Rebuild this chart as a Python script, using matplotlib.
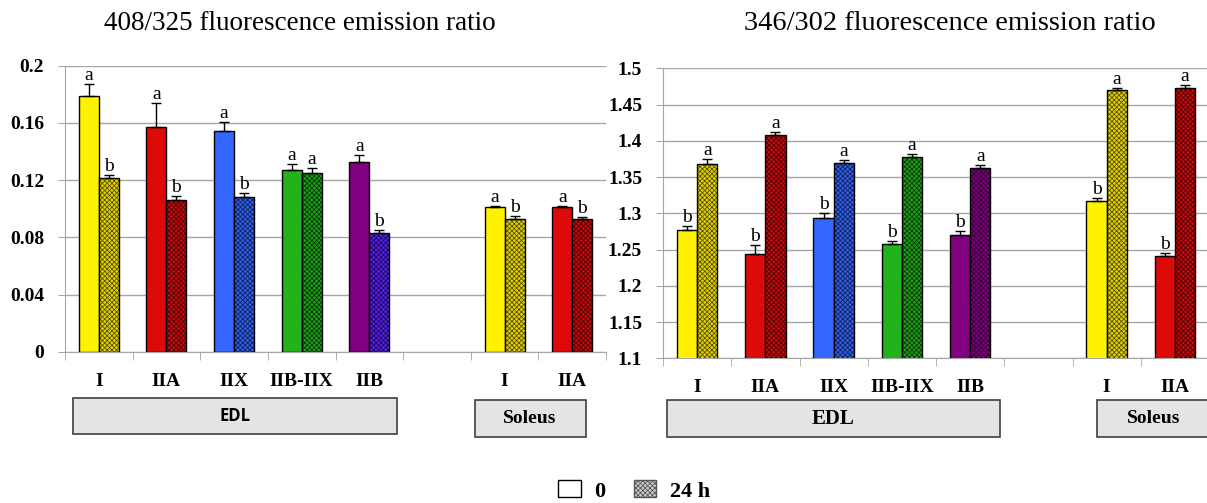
import numpy as np
import matplotlib.pyplot as plt
from matplotlib.patches import Rectangle, Patch

# Datos
fibras = ["I", "IIA", "IIX", "IIB-IIX", "IIB", "I", "IIA"]
posiciones = [0, 1, 2, 3, 4, 6, 7]

# 408/325
r408_0h = [0.179, 0.157, 0.1545, 0.1273, 0.1324, 0.101, 0.101]
r408_0h_err = [0.008, 0.017, 0.006, 0.004, 0.0054, 0.001, 0.001]
r408_24h = [0.1213, 0.1063, 0.108, 0.1247, 0.0832, 0.093, 0.093]
r408_24h_err = [0.0025, 0.0026, 0.003, 0.004, 0.002, 0.0017, 0.0015]
letras408_0h = ["a", "a", "a", "a", "a", "a", "a"]
letras408_24h = ["b", "b", "b", "a", "b", "b", "b"]
ticks408 = [0, 0.04, 0.08, 0.12, 0.16, 0.2]

# 346/302
r346_0h = [1.277, 1.244, 1.294, 1.2577, 1.270, 1.317, 1.2407]
r346_0h_err = [0.005, 0.012, 0.007, 0.004, 0.005, 0.004, 0.004]
r346_24h = [1.3684, 1.4084, 1.370, 1.3773, 1.362, 1.4697, 1.4728]
r346_24h_err = [0.006, 0.004, 0.004, 0.004, 0.005, 0.003, 0.004]
letras346_0h = ["b", "b", "b", "b", "b", "b", "b"]
letras346_24h = ["a", "a", "a", "a", "a", "a", "a"]
ticks346 = [1.1, 1.15, 1.2, 1.25, 1.3, 1.35, 1.4, 1.45, 1.5]

# colores: 0 h, 24 h (fondo), 24 h (trama)
col_0h = ["#fff200", "#dd0a0a", "#3366ff", "#22b21a", "#800080", "#fff200", "#dd0a0a"]
col_24h = ["#e2d200", "#c80c0c", "#3060e8", "#1f9e18", "#5a20e0", "#e2d200", "#c80c0c"]
trama_24h = ["#5a5200", "#4a0000", "#10205a", "#0a3a08", "#1a0860", "#5a5200", "#4a0000"]
col_24h_der = ["#e2d200", "#c80c0c", "#3060e8", "#1f9e18", "#800080", "#e2d200", "#c80c0c"]
trama_24h_der = ["#5a5200", "#4a0000", "#10205a", "#0a3a08", "#300030", "#5a5200", "#4a0000"]

W, H = 1207, 503
plt.rcParams['hatch.linewidth'] = 0.6
serif = "Liberation Serif"
gris = "#a6a6a6"


def px(x0, y0, x1, y1):
    return [x0 / W, 1 - y1 / H, (x1 - x0) / W, (y1 - y0) / H]


def panel(ax, v0, e0, v24, e24, l0, l24, c24, t24, yticks, ylim):
    ancho = 0.295
    x = np.array(posiciones, dtype=float)
    x0 = x - ancho / 2
    x24 = x + ancho / 2
    ax.bar(x0, v0, ancho, color=col_0h, edgecolor="black", linewidth=1, zorder=3)
    ax.bar(x24, v24, ancho, color=c24, edgecolor=t24, hatch="xxxxxxx", linewidth=0, zorder=3)
    ax.bar(x24, v24, ancho, fill=False, edgecolor="black", linewidth=1, zorder=4)
    ax.errorbar(x0, v0, yerr=[np.zeros(len(e0)), e0], fmt="none", ecolor="black",
                elinewidth=1, capsize=3.5, capthick=1, zorder=5)
    ax.errorbar(x24, v24, yerr=[np.zeros(len(e24)), e24], fmt="none", ecolor="black",
                elinewidth=1, capsize=3.5, capthick=1, zorder=5)
    for i in range(len(x)):
        ax.annotate(l0[i], (x0[i], v0[i] + e0[i]), xytext=(0, 0), textcoords="offset points",
                    ha="center", va="bottom", fontsize=14, family=serif, annotation_clip=False)
        ax.annotate(l24[i], (x24[i], v24[i] + e24[i]), xytext=(0, 0), textcoords="offset points",
                    ha="center", va="bottom", fontsize=14, family=serif, annotation_clip=False)

    ax.set_xlim(-0.5, 7.5)
    ax.set_ylim(*ylim)
    ax.set_yticks(yticks)
    ax.set_yticklabels(["%g" % t for t in yticks], fontsize=14, fontweight="bold", family=serif)
    ax.tick_params(axis="y", length=5, color=gris, pad=10)
    ax.set_xticks(posiciones)
    ax.set_xticklabels(fibras, fontsize=14, fontweight="bold", family=serif)
    ax.set_xticks(np.arange(-0.5, 8, 1), minor=True)
    ax.tick_params(axis="x", which="major", length=0, pad=15)
    ax.tick_params(axis="x", which="minor", length=6, color=gris)
    ax.grid(axis="y", color=gris, linewidth=1, zorder=0)
    ax.set_axisbelow(True)
    for s in ["top", "right"]:
        ax.spines[s].set_visible(False)
    for s in ["left", "bottom"]:
        ax.spines[s].set_color(gris)


fig = plt.figure(figsize=(W / 100, H / 100), dpi=100)

ax1 = fig.add_axes(px(65, 65.7, 606, 351.7))
panel(ax1, r408_0h, r408_0h_err, r408_24h, r408_24h_err, letras408_0h, letras408_24h,
      col_24h, trama_24h, ticks408, (0, 0.2))

ax2 = fig.add_axes(px(663, 68.3, 1209, 358.3))
panel(ax2, r346_0h, r346_0h_err, r346_24h, r346_24h_err, letras346_0h, letras346_24h,
      col_24h_der, trama_24h_der, ticks346, (1.1, 1.5))

fig.text(300 / W, 1 - 23 / H, "408/325 fluorescence emission ratio", ha="center", va="center",
         fontsize=19.5, family=serif)
fig.text(950 / W, 1 - 23 / H, "346/302 fluorescence emission ratio", ha="center", va="center",
         fontsize=20.5, family=serif)

# cajas de musculo
cajas = [
    (73, 398, 397, 434, 235, "EDL", "Open Sans", 12),
    (475, 400, 586, 437, 530, "Soleus", serif, 14),
    (667, 400, 1000, 437, 833, "EDL", serif, 15),
    (1097, 400, 1215, 437, 1154, "Soleus", serif, 14),
]
for x0, y0, x1, y1, xc, txt, fam, fs in cajas:
    r = Rectangle((x0 / W, 1 - y1 / H), (x1 - x0) / W, (y1 - y0) / H, transform=fig.transFigure,
                  facecolor="#e4e4e4", edgecolor="#404040", linewidth=1.2)
    fig.add_artist(r)
    fig.text(xc / W, 1 - (y0 + y1) / 2 / H, txt, ha="center", va="center",
             fontsize=fs, fontweight="bold", family=fam)

# leyenda
handles = [Patch(facecolor="white", edgecolor="black", linewidth=1),
           Patch(facecolor="#d0d0d0", edgecolor="#555555", hatch="xxxxxxx", linewidth=1)]
fig.legend(handles, ["0", "24 h"], loc="center", bbox_to_anchor=(634 / W, 1 - 491 / H), ncol=2,
           frameon=False, prop={"family": serif, "weight": "bold", "size": 16},
           handlelength=1.0, handleheight=0.8, columnspacing=1.3, handletextpad=0.6)

fig.savefig("out.png", dpi=100)
